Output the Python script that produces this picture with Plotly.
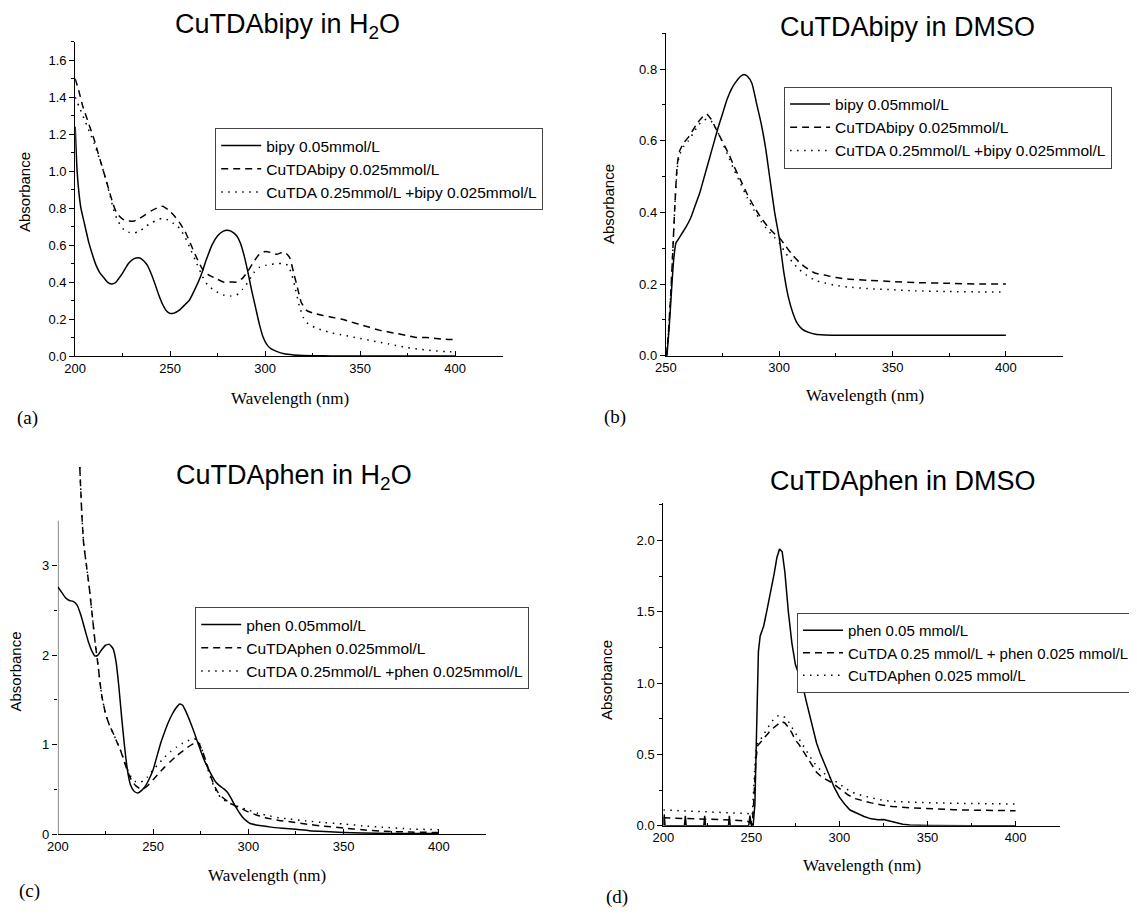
import plotly.graph_objects as go

# ---------------- data: panel (a) CuTDAbipy in H2O ----------------
a_x_solid = [200, 201, 202, 203, 205, 207, 209, 211, 213, 215, 217, 219, 221, 223, 225, 228, 230, 232, 234, 236,
             238, 240, 242, 244, 246, 248, 250, 252, 255, 258, 260, 263, 266, 269, 272, 275, 278, 280, 282, 285,
             287, 289, 291, 293, 295, 297, 299, 301, 303, 306, 310, 315, 320, 330, 340, 360, 380, 400]
a_y_solid = [1.24, 1.0, 0.88, 0.8, 0.71, 0.62, 0.55, 0.49, 0.45, 0.425, 0.40, 0.39, 0.395, 0.42, 0.45, 0.50, 0.52, 0.53, 0.53, 0.515,
             0.49, 0.445, 0.39, 0.33, 0.28, 0.245, 0.23, 0.232, 0.25, 0.28, 0.30, 0.36, 0.43, 0.52, 0.60, 0.65, 0.675, 0.68, 0.675, 0.65,
             0.61, 0.54, 0.45, 0.35, 0.26, 0.17, 0.10, 0.06, 0.04, 0.025, 0.012, 0.006, 0.003, 0.001, 0, 0, 0, 0]
a_x_dash = [200, 202, 204, 206, 208, 210, 212, 214, 216, 218, 220, 222, 225, 228, 231, 234, 237, 240, 243, 246,
            249, 252, 255, 258, 261, 264, 267, 270, 274, 278, 282, 285, 288, 291, 294, 297, 300, 303, 306, 309,
            311, 313, 315, 317, 319, 322, 326, 330, 335, 340, 345, 350, 355, 360, 365, 370, 375, 380, 385, 390, 395, 400]
a_y_dash = [1.50, 1.43, 1.35, 1.29, 1.23, 1.17, 1.10, 1.03, 0.96, 0.89, 0.82, 0.77, 0.74, 0.73, 0.73, 0.745, 0.765, 0.785, 0.80, 0.81,
            0.79, 0.76, 0.72, 0.67, 0.60, 0.53, 0.47, 0.44, 0.42, 0.40, 0.40, 0.40, 0.42, 0.46, 0.51, 0.55, 0.565, 0.56, 0.55, 0.56,
            0.555, 0.53, 0.45, 0.37, 0.29, 0.245, 0.23, 0.22, 0.21, 0.20, 0.185, 0.17, 0.155, 0.14, 0.13, 0.12, 0.11, 0.10, 0.10, 0.095, 0.09, 0.09]
a_x_dot = [200, 202, 204, 206, 208, 210, 212, 214, 216, 218, 220, 222, 225, 228, 231, 234, 237, 240, 243, 246,
           249, 252, 255, 258, 261, 264, 267, 270, 274, 278, 282, 285, 288, 291, 294, 297, 300, 303, 306, 309,
           312, 314, 316, 318, 320, 322, 326, 330, 335, 340, 345, 350, 355, 360, 365, 370, 375, 380, 385, 390, 395, 400]
a_y_dot = [1.40, 1.35, 1.30, 1.25, 1.20, 1.15, 1.09, 1.03, 0.96, 0.88, 0.80, 0.74, 0.69, 0.67, 0.665, 0.675, 0.70, 0.72, 0.735, 0.745,
           0.735, 0.715, 0.69, 0.64, 0.57, 0.50, 0.43, 0.38, 0.35, 0.33, 0.325, 0.33, 0.36, 0.40, 0.45, 0.48, 0.49, 0.495, 0.50, 0.50,
           0.49, 0.44, 0.36, 0.27, 0.21, 0.18, 0.155, 0.14, 0.125, 0.115, 0.105, 0.095, 0.085, 0.075, 0.065, 0.055, 0.045, 0.038, 0.032, 0.027, 0.024, 0.022]

# ---------------- data: panel (b) CuTDAbipy in DMSO ----------------
b_x_solid = [250.5, 251.5, 252.5, 253.5, 254.5, 255.5, 257, 259, 261, 263, 265, 267, 269, 271, 273, 275, 277, 279, 281, 283,
             284.5, 286, 288, 290, 292, 294, 296, 298, 300, 302, 304, 306, 308, 310, 313, 316, 320, 330, 350, 375, 400]
b_y_solid = [0.0, 0.08, 0.18, 0.27, 0.315, 0.325, 0.34, 0.36, 0.385, 0.42, 0.455, 0.50, 0.545, 0.59, 0.635, 0.675, 0.715, 0.745, 0.765, 0.78,
             0.785, 0.78, 0.76, 0.705, 0.65, 0.58, 0.49, 0.40, 0.33, 0.235, 0.165, 0.12, 0.09, 0.075, 0.065, 0.06, 0.058, 0.057, 0.057, 0.057, 0.057]
b_x_dash = [250.3, 251, 252, 253, 254, 255, 256, 258, 260, 262, 264, 266, 268, 270, 272, 274, 276, 278, 280, 283,
            286, 289, 292, 295, 298, 300, 303, 306, 309, 312, 316, 320, 325, 330, 340, 350, 360, 375, 390, 400]
b_y_dash = [0.0, 0.05, 0.15, 0.28, 0.42, 0.53, 0.57, 0.595, 0.61, 0.63, 0.65, 0.665, 0.675, 0.66, 0.635, 0.61, 0.585, 0.56, 0.53, 0.49,
            0.45, 0.415, 0.385, 0.36, 0.34, 0.33, 0.305, 0.28, 0.26, 0.245, 0.23, 0.225, 0.218, 0.214, 0.21, 0.207, 0.204, 0.202, 0.2, 0.2]
b_x_dot = b_x_dash
b_y_dot = [0.0, 0.05, 0.15, 0.28, 0.42, 0.52, 0.56, 0.585, 0.60, 0.62, 0.64, 0.655, 0.66, 0.655, 0.635, 0.61, 0.58, 0.55, 0.52, 0.48,
           0.44, 0.405, 0.375, 0.35, 0.33, 0.315, 0.285, 0.26, 0.24, 0.225, 0.21, 0.203, 0.196, 0.192, 0.187, 0.184, 0.181, 0.179, 0.178, 0.178]

# ---------------- data: panel (c) CuTDAphen in H2O ----------------
c_x_solid = [200, 202, 204, 206, 208, 210, 212, 214, 216, 218, 219.5, 221, 223, 225, 227, 229, 230.5, 232, 233.5, 235,
             236.5, 238, 240, 242, 244, 246, 248, 250, 252, 254, 256, 258, 260, 262, 264, 265.5, 267, 269, 271, 273,
             275, 277, 279, 281, 283, 285, 287, 289, 291, 293, 295, 297, 299, 301, 304, 307, 312, 318, 325, 332,
             340, 350, 360, 375, 400]
c_y_solid = [2.76, 2.70, 2.64, 2.61, 2.60, 2.56, 2.45, 2.30, 2.15, 2.04, 1.99, 2.00, 2.06, 2.11, 2.12, 2.07, 1.93, 1.65, 1.30, 0.98,
             0.72, 0.56, 0.48, 0.46, 0.49, 0.54, 0.62, 0.72, 0.87, 1.02, 1.14, 1.25, 1.34, 1.41, 1.455, 1.44, 1.38, 1.28, 1.17, 1.05,
             0.93, 0.82, 0.73, 0.65, 0.58, 0.54, 0.51, 0.47, 0.40, 0.32, 0.25, 0.19, 0.15, 0.12, 0.105, 0.095, 0.08, 0.068, 0.055, 0.04,
             0.03, 0.02, 0.015, 0.01, 0.008]
c_x_dash = [211.5, 212.5, 213.5, 215, 216.5, 218, 219.5, 221, 223, 225, 227, 229, 231, 233, 235, 237, 239, 241, 243, 245,
            247, 250, 253, 256, 259, 262, 265, 268, 271, 273.5, 276, 278, 280, 282, 284, 286, 289, 292, 296, 300,
            305, 310, 316, 322, 330, 340, 350, 360, 370, 385, 400]
c_y_dash = [4.10, 3.60, 3.25, 3.00, 2.75, 2.45, 2.15, 1.90, 1.55, 1.35, 1.22, 1.13, 1.03, 0.93, 0.80, 0.68, 0.59, 0.54, 0.51, 0.51,
            0.54, 0.61, 0.68, 0.75, 0.81, 0.87, 0.92, 0.97, 1.01, 1.03, 0.92, 0.80, 0.66, 0.55, 0.47, 0.42, 0.37, 0.33, 0.29, 0.25,
            0.21, 0.18, 0.155, 0.14, 0.115, 0.09, 0.07, 0.05, 0.035, 0.025, 0.02]
c_x_dot = c_x_dash
c_y_dot = [4.10, 3.60, 3.25, 3.00, 2.75, 2.45, 2.15, 1.90, 1.55, 1.35, 1.22, 1.13, 1.03, 0.93, 0.81, 0.70, 0.62, 0.585, 0.58, 0.60,
           0.64, 0.72, 0.79, 0.86, 0.92, 0.97, 1.01, 1.04, 1.07, 1.05, 0.92, 0.78, 0.64, 0.53, 0.45, 0.40, 0.36, 0.33, 0.30, 0.27,
           0.235, 0.21, 0.185, 0.17, 0.15, 0.13, 0.115, 0.095, 0.08, 0.06, 0.05]

# ---------------- data: panel (d) CuTDAphen in DMSO ----------------
d_x_solid = [200, 200.5, 201, 201.5, 212, 212.5, 213, 223, 223.5, 224, 237, 237.5, 238, 248.5, 249.2, 250, 251, 252, 253, 254,
             255, 257, 259, 261, 263, 264.5, 266, 267.5, 269, 271, 273, 275, 277, 279, 281, 283, 285, 287, 289, 291,
             293, 295, 297, 300, 303, 306, 310, 314, 318, 322, 325, 328, 332, 336, 340, 350, 375, 400]
d_y_solid = [0, 0.08, 0, 0, 0, 0.07, 0, 0, 0.07, 0, 0, 0.07, 0, 0, 0.07, 0, 0, 0.15, 0.70, 1.22,
             1.33, 1.40, 1.52, 1.64, 1.77, 1.88, 1.94, 1.92, 1.78, 1.50, 1.28, 1.13, 1.06, 0.99, 0.88, 0.78, 0.68, 0.58, 0.51, 0.45,
             0.38, 0.32, 0.27, 0.20, 0.15, 0.11, 0.085, 0.065, 0.048, 0.042, 0.043, 0.035, 0.02, 0.01, 0.005, 0.002, 0, 0]
d_x_dash = [200, 210, 220, 230, 240, 248, 250.5, 251.5, 252.5, 253.5, 255, 257, 259, 261, 263, 265, 267, 269, 271, 273,
            275, 277, 279, 281, 283, 285, 287, 290, 293, 296, 299, 302, 305, 309, 313, 318, 324, 330, 340, 350,
            365, 380, 400]
d_y_dash = [0.055, 0.052, 0.05, 0.045, 0.04, 0.03, 0.01, 0.20, 0.45, 0.56, 0.58, 0.61, 0.64, 0.67, 0.69, 0.71, 0.73, 0.72, 0.69, 0.65,
            0.60, 0.57, 0.53, 0.49, 0.45, 0.41, 0.375, 0.34, 0.32, 0.30, 0.27, 0.24, 0.215, 0.19, 0.175, 0.16, 0.145, 0.135, 0.125, 0.118,
            0.112, 0.108, 0.105]
d_x_dot = d_x_dash
d_y_dot = [0.11, 0.105, 0.10, 0.095, 0.09, 0.085, 0.07, 0.30, 0.52, 0.58, 0.60, 0.64, 0.68, 0.72, 0.75, 0.77, 0.775, 0.76, 0.73, 0.69,
           0.65, 0.61, 0.57, 0.53, 0.49, 0.45, 0.42, 0.38, 0.35, 0.325, 0.30, 0.27, 0.25, 0.225, 0.21, 0.195, 0.18, 0.17, 0.165, 0.16,
           0.157, 0.155, 0.152]

# ---------------- labels ----------------
panel_titles = ["CuTDAbipy in H<sub>2</sub>O", "CuTDAbipy in DMSO", "CuTDAphen in H<sub>2</sub>O", "CuTDAphen in DMSO"]
panel_tags = ["(a)", "(b)", "(c)", "(d)"]
names_a = ["bipy 0.05mmol/L", "CuTDAbipy 0.025mmol/L", "CuTDA 0.25mmol/L +bipy 0.025mmol/L"]
names_b = ["bipy 0.05mmol/L", "CuTDAbipy 0.025mmol/L", "CuTDA 0.25mmol/L +bipy 0.025mmol/L"]
names_c = ["phen 0.05mmol/L", "CuTDAphen 0.025mmol/L", "CuTDA 0.25mmol/L +phen 0.025mmol/L"]
names_d = ["phen 0.05 mmol/L", "CuTDA 0.25 mmol/L + phen 0.025 mmol/L", "CuTDAphen 0.025 mmol/L"]
x_label = "Wavelength (nm)"
y_label = "Absorbance"

# target picture is 1137 x 914; the page body adds an 8 px margin, so the
# figure is 8 px smaller and screen positions are shifted into figure pixels
OFF = 8
FW, FH = 1137 - OFF, 914 - OFF
SANS = "Liberation Sans, Arial, sans-serif"
SERIF = "Liberation Serif, Times New Roman, serif"
DASH = "7px,5px"
DOT = "1.5px,5.5px"


def fx(px):
    return (px - OFF) / FW


def fy(py):
    return 1 - (py - OFF) / FH


fig = go.Figure()

panels = [
    ("x", "y", "legend", names_a, [(a_x_solid, a_y_solid), (a_x_dash, a_y_dash), (a_x_dot, a_y_dot)], "spline"),
    ("x2", "y2", "legend2", names_b, [(b_x_solid, b_y_solid), (b_x_dash, b_y_dash), (b_x_dot, b_y_dot)], "spline"),
    ("x3", "y3", "legend3", names_c, [(c_x_solid, c_y_solid), (c_x_dash, c_y_dash), (c_x_dot, c_y_dot)], "spline"),
    ("x4", "y4", "legend4", names_d, [(d_x_solid, d_y_solid), (d_x_dash, d_y_dash), (d_x_dot, d_y_dot)], "linear"),
]
styles = ["solid", DASH, DOT]
for xa, ya, lg, names, series, shp in panels:
    for (xs, ys), nm, st in zip(series, names, styles):
        line = dict(color="black", width=1.5, dash=st, shape=shp)
        if shp == "spline":
            line["smoothing"] = 0.5
        fig.add_trace(go.Scatter(x=xs, y=ys, mode="lines", name=nm, line=line,
                                 xaxis=xa, yaxis=ya, legend=lg))


def dom_x(l, r):
    return [fx(l), fx(r)]


def dom_y(t, b):
    return [fy(b), fy(t)]


tickfont = dict(family=SANS, size=13, color="black")


def xaxis(dom, rng, anchor):
    return dict(domain=dom, range=rng, anchor=anchor, showline=True, linecolor="black", linewidth=1,
                ticks="inside", ticklen=5, tickwidth=1, tickcolor="black", dtick=50, tick0=200,
                showgrid=False, zeroline=False, tickfont=tickfont, automargin=False,
                minor=dict(dtick=25, tick0=200, ticks="inside", ticklen=3, tickcolor="black", showgrid=False))


def yaxis(dom, rng, anchor, dtick, mdtick, fmt, showline=True, tickvals=None, minorvals=None):
    d = dict(domain=dom, range=rng, anchor=anchor, showline=showline, linecolor="black", linewidth=1,
             ticks="outside", ticklen=5, tickwidth=1, tickcolor="black", automargin=False,
             showgrid=False, zeroline=False, tickfont=tickfont, tickformat=fmt)
    if tickvals is None:
        d.update(dtick=dtick, tick0=0)
        d["minor"] = dict(dtick=mdtick, tick0=0, ticks="outside", ticklen=3, tickcolor="black", showgrid=False)
    else:
        d.update(tickmode="array", tickvals=tickvals)
        d["minor"] = dict(tickmode="array", tickvals=minorvals, ticks="outside", ticklen=3,
                          tickcolor="black", showgrid=False)
    return d


fig.update_layout(
    width=FW, height=FH, autosize=False,
    margin=dict(l=0, r=0, t=0, b=0, autoexpand=False),
    paper_bgcolor="white", plot_bgcolor="white",
    xaxis=xaxis(dom_x(75.2, 502.6), [200, 425], "y"),
    yaxis=yaxis(dom_y(41.7, 356), [0, 1.7], "x", 0.2, 0.1, ".1f"),
    xaxis2=xaxis(dom_x(665.8, 1062.6), [250, 425], "y2"),
    yaxis2=yaxis(dom_y(33.3, 355.7), [0, 0.9], "x2", 0.2, 0.1, ".1f"),
    xaxis3=xaxis(dom_x(57.9, 486.4), [200, 425], "y3"),
    yaxis3=yaxis(dom_y(462.5, 834.3), [0, 4.15], "x3", None, None, "d", showline=False,
                 tickvals=[0, 1, 2, 3], minorvals=[0.5, 1.5, 2.5]),
    xaxis4=xaxis(dom_x(663.3, 1059.6), [200, 425], "y4"),
    yaxis4=yaxis(dom_y(503.3, 825.7), [0, 2.26], "x4", 0.5, 0.25, ".1f"),
    showlegend=True,
)

legend_style = dict(bgcolor="white", bordercolor="#444", borderwidth=1, xanchor="left", yanchor="top",
                    itemwidth=40, tracegroupgap=0)
lfont = dict(family=SANS, size=15.5, color="black")
fig.update_layout(
    legend=dict(x=fx(215.2), y=fy(128), font=lfont, **legend_style),
    legend2=dict(x=fx(784.1), y=fy(86.5), font=lfont, **legend_style),
    legend3=dict(x=fx(195.2), y=fy(607), font=lfont, **legend_style),
    legend4=dict(x=fx(797), y=fy(613), font=dict(family=SANS, size=15, color="black"), **legend_style),
)

# y axis line of panel (c) stops at 3.5 while the curves run above it
fig.add_shape(type="line", xref="x3", yref="y3", x0=200, x1=200, y0=0, y1=3.5,
              line=dict(color="black", width=1))


def ann(text, xpx, ypx, size, family, angle=0):
    fig.add_annotation(text=text, x=fx(xpx), y=fy(ypx), xref="paper", yref="paper",
                       showarrow=False, xanchor="center", yanchor="middle", textangle=angle,
                       font=dict(family=family, size=size, color="black"))


for t, (xp, yp) in zip(panel_titles, [(287.2, 26), (907.3, 27), (293.5, 477), (903, 481)]):
    ann(t, xp, yp, 27, SANS)
for (xp, yp) in [(289.9, 398.5), (864.7, 395.5), (266.6, 875.5), (862, 865.5)]:
    ann(x_label, xp, yp, 17, SERIF)
for (xp, yp) in [(24.5, 192.5), (608, 204), (14.5, 672), (606, 680)]:
    ann(y_label, xp, yp, 15, SANS, angle=-90)
for t, (xp, yp) in zip(panel_tags, [(27, 418), (615, 417), (29, 891), (617, 897)]):
    ann(t, xp, yp, 19, SERIF)

fig.write_html("out.html")
